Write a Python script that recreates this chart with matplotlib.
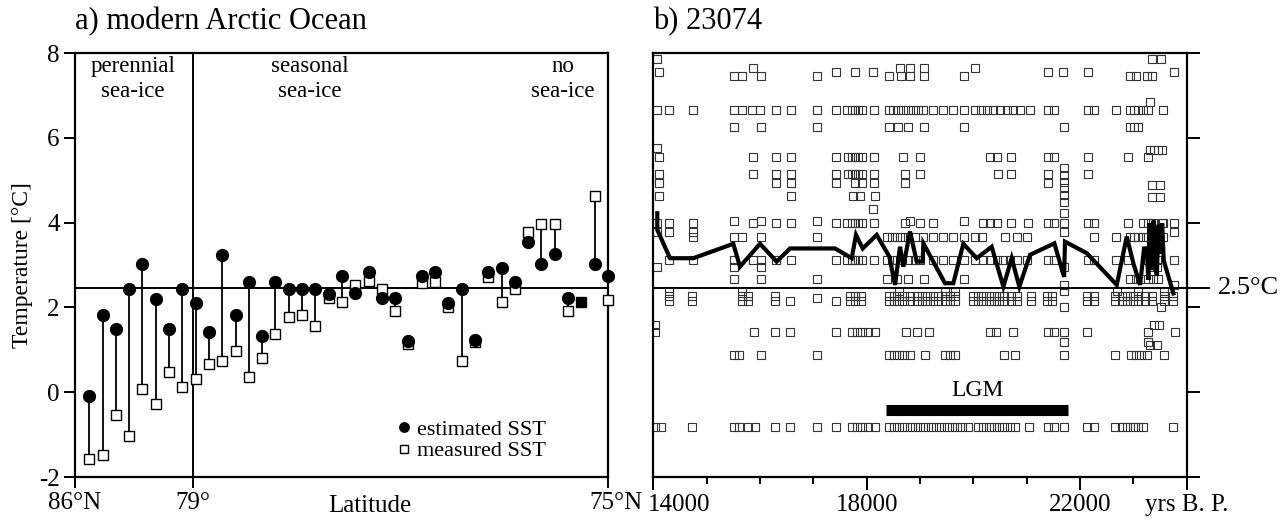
import matplotlib
matplotlib.use("Agg")
import matplotlib.pyplot as plt
import matplotlib.transforms as mtransforms
import numpy as np
from matplotlib.ticker import FixedLocator, MultipleLocator

plt.rcParams["font.family"] = ["Liberation Serif", "DejaVu Serif"]
plt.rcParams["axes.unicode_minus"] = False

# ---- a) modern Arctic Ocean: stations from 86°N to 75°N ----
est_sst = [-0.09, 1.81, 1.50, 2.43, 3.02, 2.20, 1.50, 2.43, 2.11, 1.41,
           3.24, 1.81, 2.61, 1.33, 2.61, 2.43, 2.43, 2.43, 2.31, 2.74,
           2.35, 2.84, 2.21, 2.21, 1.21, 2.74, 2.84, 2.11, 2.43, 1.23,
           2.84, 2.94, 2.61, 3.55, 3.02, 3.25, 2.21, np.nan, 3.02, 2.74]
meas_sst = [-1.57, -1.47, -0.54, -1.04, 0.08, -0.27, 0.48, 0.13, 0.30, 0.66,
            0.74, 0.97, 0.35, 0.80, 1.37, 1.78, 1.82, 1.56, 2.21, 2.13,
            2.53, 2.62, 2.43, 1.91, 1.13, 2.57, 2.61, 2.02, 0.74, 1.19,
            2.71, 2.12, 2.43, 3.77, 3.96, 3.96, 1.91, np.nan, 4.63, 2.17]
# station where both values coincide (drawn as filled square)
same_idx = [37]
same_sst = [2.12]
lat_ticks = [-1.07, 7.82, 39.0]
lat_labels = ["86°N", "79°", "75°N"]

# ---- b) core 23074 ----
line_years = [14075, 14075, 14313, 14750, 15500, 15625, 16000, 16313, 16563,
              17407, 17720, 17800, 17926, 18188, 18425, 18532, 18625, 18688,
              18813, 18938, 19050, 19063, 19469, 19625, 19813, 20063, 20344,
              20563, 20719, 20862, 21063, 21519, 21701, 21719, 22126, 22689,
              22876, 23000, 23126, 23200, 23250, 23282, 23300, 23330, 23380,
              23410, 23440, 23470, 23500, 23540, 23570, 23750]
line_temps = [4.22, 3.83, 3.16, 3.16, 3.50, 2.96, 3.50, 3.08, 3.39,
              3.39, 3.16, 3.71, 3.39, 3.71, 3.20, 2.53, 3.43, 2.96,
              3.79, 3.08, 3.08, 3.51, 2.57, 2.57, 3.50, 3.16, 3.43,
              2.49, 3.16, 2.49, 3.24, 3.51, 2.72, 3.55, 3.28, 2.53,
              3.67, 3.04, 2.53, 3.39, 3.39, 2.65, 3.98, 2.88, 4.05,
              3.00, 2.75, 3.95, 3.27, 3.98, 3.10, 2.33]

# modern analogue SSTs (squares), one list per temperature level
sq_785 = [14075, 23344, 23519]
sq_764 = [15876, 18626, 18813, 19082, 20032]
sq_755 = [14107, 17426, 17782, 18126, 21407, 21688, 22157, 23763]
sq_746 = [15513, 15657, 16019, 17063, 18419, 18644, 18813, 19082, 19832,
          22938, 23050, 23250, 23344]
sq_685 = [23313]
sq_666 = [14075, 14294, 14738, 15513, 15657, 15844, 16000, 16300, 16581,
          17063, 17426, 17626, 17719, 17782, 17844, 17907, 18138, 18419,
          18500, 18594, 18688, 18782, 18875, 18969, 19063, 19250, 19425,
          19613, 19825, 20032, 20138, 20250, 20375, 20500, 20625, 20750,
          20875, 21063, 21407, 21513, 22157, 22269, 22675, 22938, 23013,
          23094, 23188, 23282, 23563]
sq_626 = [15513, 16019, 17063, 18419, 18594, 18782, 19082, 19832, 21707,
          22938, 23013, 23094]
sq_575 = [14075]
sq_571 = [23313, 23388, 23469, 23532]
sq_554 = [14107, 15876, 16300, 16581, 17426, 17657, 17719, 17782, 17844,
          17907, 18138, 18688, 19000, 20313, 20438, 20707, 21407, 21513,
          22157, 22894, 23282]
sq_515 = [14107, 15876, 16300, 16581, 17426, 17657, 17719, 17782, 17844,
          17907, 18138, 18719, 19000, 20469, 20707, 21407, 22157]
sq_493 = [14107, 16300, 16581, 17426, 17782, 17907, 18138, 18719, 21407]
sq_489 = [23344, 23500]
sq_463 = [14107, 16581, 17750, 17875, 18157]
sq_461 = [23344, 23500]
sq_431 = [18126]
stack_temps = [5.28, 5.12, 4.96, 4.81, 4.65, 4.49, 4.22]  # column at 21707
stack_year = 21707
sq_404 = [15513, 16019, 17063, 18813, 19832]
sq_398 = [14075, 14294, 14738, 15876, 16300, 16581, 17426, 17626, 17719,
          17782, 17844, 17907, 18138, 18719, 19000, 19250, 20188, 20313,
          20438, 20707, 21032, 21407, 21513, 21707, 22157, 22269, 22894,
          23188, 23282, 23375, 23532, 23563, 23763]
sq_378 = [14075, 14294, 14738, 21707, 23763]
sq_365 = [14738, 15513, 15657, 16019, 17063, 18376, 18469, 18563, 18657,
          18782, 18907, 19063, 19250, 19438, 19625, 19832, 20032, 20157,
          20594, 20813, 21000, 22269, 22675, 22938, 23013, 23094, 23188,
          23282, 23438, 23563]
sq_312 = [14294, 14738, 15513, 15876, 16019, 16300, 16581, 17426, 17626,
          17719, 17782, 17844, 17907, 18138, 18376, 18469, 18563, 18657,
          18782, 18907, 19000, 19250, 19438, 19625, 19832, 20032, 20188,
          20313, 20438, 20563, 20688, 20813, 21000, 21407, 21513, 22157,
          22269, 22675, 22907, 23282, 23375, 23438, 23763]
sq_296 = [14075, 15513, 16019, 21707, 23313, 23438]
sq_268 = [15513, 16019, 17063, 18376, 18563, 18782, 19082, 19832, 22938,
          23050, 23125, 23282, 23375, 23469]
sq_253 = [21707, 23763]
sq_239 = [14300, 15662, 18610, 19465, 19663, 21702, 22689, 23084, 23578]
sq_227 = [14300, 14728, 15662, 15780, 16274, 17689, 17787, 17886, 18412,
          18511, 18610, 18709, 18807, 18939, 19038, 19136, 19235, 19334,
          19465, 19564, 19663, 19992, 20090, 20189, 20288, 20386, 20485,
          20584, 20715, 20814, 21077, 21373, 21472, 22130, 22262, 22657,
          22789, 22887, 22986, 23084, 23216, 23347, 23578, 23742]
sq_215 = sq_227 + [16570, 17425]
sq_222 = [17064]
sq_202 = [21702, 23512]
sq_159 = [14037, 23380, 23479]
sq_143 = [14037, 15879, 16274, 16570, 17425, 17722, 17820, 17919, 18018,
          18149, 18741, 18939, 19169, 20321, 20419, 20748, 21406, 21505,
          21702, 22130, 23282, 23775]
sq_119 = [21702, 23282]
sq_111 = [23314, 23446]
sq_088 = [15517, 15616, 16011, 17064, 18412, 18511, 18610, 18709, 18807,
          19103, 19465, 19564, 19663, 20584, 20781, 21702, 22657, 22953,
          23051, 23150, 23249, 23578]
sq_m083 = [14037, 14135, 14728, 15517, 15616, 15780, 15912, 16274, 16570,
           17064, 17425, 17722, 17820, 17919, 18018, 18149, 18412, 18511,
           18610, 18709, 18807, 18906, 19005, 19103, 19202, 19301, 19399,
           19498, 19597, 19696, 19794, 19893, 20090, 20189, 20288, 20386,
           20485, 20584, 20682, 20781, 21044, 21406, 21505, 21702, 22130,
           22262, 22657, 22789, 22887, 22986, 23084, 23183, 23742]

sq_rows = [(7.85, sq_785), (7.64, sq_764), (7.55, sq_755), (7.46, sq_746),
           (6.85, sq_685), (6.66, sq_666), (6.26, sq_626), (5.75, sq_575),
           (5.71, sq_571), (5.54, sq_554), (5.15, sq_515), (4.93, sq_493),
           (4.89, sq_489), (4.63, sq_463), (4.61, sq_461), (4.31, sq_431),
           (4.04, sq_404), (3.98, sq_398), (3.78, sq_378), (3.65, sq_365),
           (3.12, sq_312), (2.96, sq_296), (2.68, sq_268), (2.53, sq_253),
           (2.39, sq_239), (2.27, sq_227), (2.15, sq_215), (2.22, sq_222),
           (2.02, sq_202), (1.59, sq_159), (1.43, sq_143), (1.19, sq_119),
           (1.11, sq_111), (0.88, sq_088), (-0.83, sq_m083)]

lgm_years = [18360, 21780]
lgm_temp = -0.41
ref_temp = 2.45

W, H = 1286, 522
fig = plt.figure(figsize=(W / 100, H / 100), dpi=100)
ax1 = fig.add_axes([75 / W, 1 - 477 / H, 533 / W, 424 / H])
ax2 = fig.add_axes([653.3 / W, 1 - 477 / H, 533.4 / W, 424 / H])

for ax in (ax1, ax2):
    for sp in ax.spines.values():
        sp.set_linewidth(1.6)
    ax.set_ylim(-2, 8)

# --- panel a ---
idx = np.arange(len(est_sst))
ax1.vlines(idx, meas_sst, est_sst, color="black", lw=1.3, zorder=2)
ax1.axhline(ref_temp, color="black", lw=1.4, zorder=1)
ax1.axvline(lat_ticks[1], color="black", lw=1.4, zorder=1)
ax1.plot(idx, meas_sst, "s", ms=7, mfc="white", mec="black", mew=1.0,
         clip_on=False, zorder=3, label="measured SST")
ax1.plot(idx, est_sst, "o", ms=8.5, color="black", clip_on=False, zorder=4,
         label="estimated SST")
ax1.plot(same_idx, same_sst, "s", ms=7.5, color="black", zorder=4)

ax1.set_xlim(lat_ticks[0], lat_ticks[-1])
ax1.set_xticks(lat_ticks)
ax1.set_xticklabels(lat_labels)
ax1.set_yticks([-2, 0, 2, 4, 6, 8])
ax1.tick_params(direction="out", length=8, width=1.4, labelsize=18, pad=3)
ax1.set_xlabel("Latitude", fontsize=18)
ax1.xaxis.set_label_coords(0.553, -0.043)
ax1.set_ylabel("Temperature [°C]", fontsize=17, labelpad=4)

# keep "75°N" and "14000" apart at the shared corner
lab = ax1.get_xticklabels()[-1]
lab.set_ha("right")
lab.set_transform(lab.get_transform() + mtransforms.ScaledTranslation(
    0.34, 0, fig.dpi_scale_trans))

for x, txt in [(3.3, "perennial\nsea-ice"), (16.6, "seasonal\nsea-ice"),
               (35.6, "no\nsea-ice")]:
    ax1.text(x, 7.92, txt, ha="center", va="top", fontsize=16.5,
             linespacing=1.2)

h, l = ax1.get_legend_handles_labels()
leg = ax1.legend(h[::-1], l[::-1], loc="lower left",
                 bbox_to_anchor=(0.575, 0.0), frameon=False, fontsize=16,
                 handlelength=0.6, handletextpad=0.3, labelspacing=0.05,
                 borderpad=0.2, markerscale=0.8)

ax1.text(0, 1.0 + 24 / 424, "a) modern Arctic Ocean", transform=ax1.transAxes,
         fontsize=22, va="baseline", ha="left")

# --- panel b ---
for temp, years in sq_rows:
    ax2.plot(years, [temp] * len(years), "s", ms=5.6, mfc="none",
             mec="#333333", mew=0.8, zorder=2)
ax2.plot([stack_year] * len(stack_temps), stack_temps, "s", ms=5.6,
         mfc="none", mec="#333333", mew=0.8, zorder=2)
ax2.plot(line_years, line_temps, color="black", lw=3, zorder=4,
         solid_joinstyle="miter")
ax2.plot(lgm_years, [lgm_temp] * 2, color="black", lw=8,
         solid_capstyle="butt", zorder=3)
ax2.text(np.mean(lgm_years), -0.2, "LGM", ha="center", va="bottom",
         fontsize=17)
ax2.axhline(ref_temp, xmin=0, xmax=1.042, color="black", lw=1.4,
            clip_on=False, zorder=3)
ax2.text(1.058, ref_temp, "2.5°C", transform=ax2.get_yaxis_transform(),
         ha="left", va="center", fontsize=19)

ax2.set_xlim(14000, 24000)
ax2.xaxis.set_major_locator(FixedLocator([14000, 18000, 22000, 24000]))
ax2.set_xticklabels(["14000", "18000", "22000", "yrs B. P."])
ax2.xaxis.set_minor_locator(MultipleLocator(1000))
ax2.set_yticks([-2, 0, 2, 4, 6, 8])
ax2.yaxis.tick_right()
ax2.tick_params(axis="y", labelright=False)
ax2.tick_params(direction="out", length=9, width=1.4, labelsize=18, pad=3)
ax2.tick_params(axis="x", which="minor", direction="out", length=5,
                width=1.4)

lab = ax2.get_xticklabels()[0]
lab.set_ha("left")
lab.set_transform(lab.get_transform() + mtransforms.ScaledTranslation(
    -0.05, 0, fig.dpi_scale_trans))

ax2.text(0, 1.0 + 24 / 424, "b) 23074", transform=ax2.transAxes,
         fontsize=22, va="baseline", ha="left")

fig.savefig("out.png", dpi=100)
